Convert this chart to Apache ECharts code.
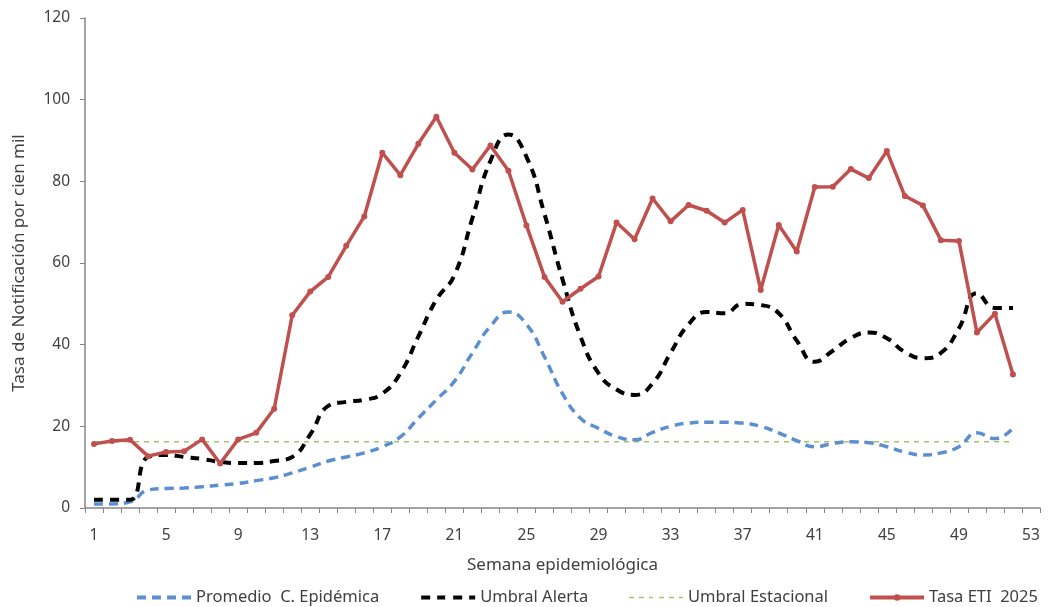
<!DOCTYPE html>
<html>
<head>
<meta charset="UTF-8">
<title>Tasa ETI 2025</title>
<script src="https://cdn.jsdelivr.net/npm/echarts@6/dist/echarts.min.js"></script>
<style>
  html, body { margin: 0; padding: 0; background: #fff; }
  #chart { width: 1049px; height: 607px; }
</style>
</head>
<body>
<div id="chart"></div>
<script>
// semanas epidemiológicas
var semanas = ['1','2','3','4','5','6','7','8','9','10','11','12','13','14','15','16','17','18','19','20',
  '21','22','23','24','25','26','27','28','29','30','31','32','33','34','35','36','37','38','39','40',
  '41','42','43','44','45','46','47','48','49','50','51','52','53'];

var promedio = [1, 1, 1.5, 4.4, 4.8, 4.9, 5.2, 5.6, 6, 6.7, 7.4, 8.6, 10, 11.5, 12.5, 13.5, 15, 17.4, 22, 26.5,
  31, 38, 44.5, 48, 45, 37, 28, 22, 19.5, 17.5, 16.7, 18.5, 20, 20.8, 21, 21, 20.8, 20, 18.4, 16.5,
  15, 15.8, 16.2, 16, 15, 13.7, 13, 13.5, 15, 18.4, 17, 19.6];

var umbralAlerta = [2, 2, 2, 12.5, 13, 12.5, 12, 11.3, 11, 11, 11.5, 12.5, 18, 25, 26, 26.5, 28, 33, 42, 51,
  57, 71, 85, 91.5, 86, 72, 56, 42, 33, 29, 27.7, 30.5, 38, 45, 48, 47.7, 50, 49.7, 47.7, 41,
  35.8, 38.5, 41.6, 43, 41.6, 38.2, 36.7, 38, 44, 52.6, 49, 49];

var umbralEstacional = [16.2, 16.2, 16.2, 16.2, 16.2, 16.2, 16.2, 16.2, 16.2, 16.2, 16.2, 16.2, 16.2, 16.2, 16.2, 16.2, 16.2, 16.2, 16.2, 16.2,
  16.2, 16.2, 16.2, 16.2, 16.2, 16.2, 16.2, 16.2, 16.2, 16.2, 16.2, 16.2, 16.2, 16.2, 16.2, 16.2, 16.2, 16.2, 16.2, 16.2,
  16.2, 16.2, 16.2, 16.2, 16.2, 16.2, 16.2, 16.2, 16.2, 16.2, 16.2, 16.2];

var tasaETI = [15.7, 16.4, 16.7, 12.7, 13.7, 13.9, 16.8, 10.9, 16.8, 18.4, 24.3, 47.2, 53, 56.6, 64.2, 71.4, 87, 81.5, 89.2, 95.8,
  87, 82.9, 88.8, 82.6, 69.2, 56.6, 50.5, 53.7, 56.7, 69.9, 65.8, 75.8, 70.2, 74.2, 72.8, 69.9, 73, 53.4, 69.3, 62.8,
  78.6, 78.7, 83, 80.8, 87.4, 76.4, 74.1, 65.6, 65.4, 43, 47.6, 32.7];

var fuente = '"Noto Sans", "Liberation Sans", sans-serif';
var gris = '#404040';
var sinSimbolo = { color: 'rgba(0,0,0,0)', borderWidth: 0 };

var myChart = echarts.init(document.getElementById('chart'));

var option = {
  animation: false,
  textStyle: { fontFamily: fuente, color: gris },
  grid: { left: 85, right: 9, top: 18, bottom: 99, containLabel: false },
  legend: {
    bottom: -4,
    left: 130,
    itemGap: 40,
    itemWidth: 54,
    itemHeight: 8,
    textStyle: { fontFamily: fuente, fontSize: 16.5, color: gris },
    data: [
      { name: 'Promedio  C. Epidémica', itemStyle: sinSimbolo, lineStyle: { width: 4 } },
      { name: 'Umbral Alerta', itemStyle: sinSimbolo, lineStyle: { width: 4 } },
      { name: 'Umbral Estacional', itemStyle: sinSimbolo, lineStyle: { width: 1.5 } },
      { name: 'Tasa ETI  2025', lineStyle: { width: 4 } }
    ]
  },
  xAxis: {
    type: 'category',
    data: semanas,
    boundaryGap: true,
    name: 'Semana epidemiológica',
    nameLocation: 'middle',
    nameGap: 49,
    nameTextStyle: { fontSize: 17, color: gris },
    axisLine: { lineStyle: { color: '#868686', width: 1.5 } },
    axisTick: { show: true, interval: 0, length: 5, lineStyle: { color: '#868686' } },
    axisLabel: { interval: 3, fontSize: 15.5, color: gris, margin: 20 },
    splitLine: { show: false }
  },
  yAxis: {
    type: 'value',
    min: 0,
    max: 120,
    interval: 20,
    name: 'Tasa de Notificación por cien mil',
    nameLocation: 'middle',
    nameGap: 57,
    nameTextStyle: { fontSize: 17, color: gris },
    axisLine: { show: true, lineStyle: { color: '#868686', width: 1.5 } },
    axisTick: { show: true, length: 5, lineStyle: { color: '#868686' } },
    axisLabel: { fontSize: 15.5, color: gris, margin: 15 },
    splitLine: { show: false }
  },
  series: [
    {
      name: 'Promedio  C. Epidémica',
      type: 'line',
      data: promedio,
      smooth: 0.5,
      showSymbol: false,
      z: 2,
      itemStyle: { color: '#5B8FD0' },
      lineStyle: { color: '#5B8FD0', width: 3.5, type: [9, 6] }
    },
    {
      name: 'Umbral Alerta',
      type: 'line',
      data: umbralAlerta,
      smooth: 0.5,
      showSymbol: false,
      z: 3,
      itemStyle: { color: '#000000' },
      lineStyle: { color: '#000000', width: 4, type: [9, 7] }
    },
    {
      name: 'Umbral Estacional',
      type: 'line',
      data: umbralEstacional,
      showSymbol: false,
      z: 1,
      itemStyle: { color: '#A5C46A' },
      lineStyle: { color: '#A5C46A', width: 1.5, type: [5, 5] }
    },
    {
      name: 'Tasa ETI  2025',
      type: 'line',
      data: tasaETI,
      symbol: 'circle',
      symbolSize: 6,
      z: 4,
      itemStyle: { color: '#C0504D' },
      lineStyle: { color: '#C0504D', width: 3.5 }
    }
  ]
};

myChart.setOption(option);
</script>
</body>
</html>
